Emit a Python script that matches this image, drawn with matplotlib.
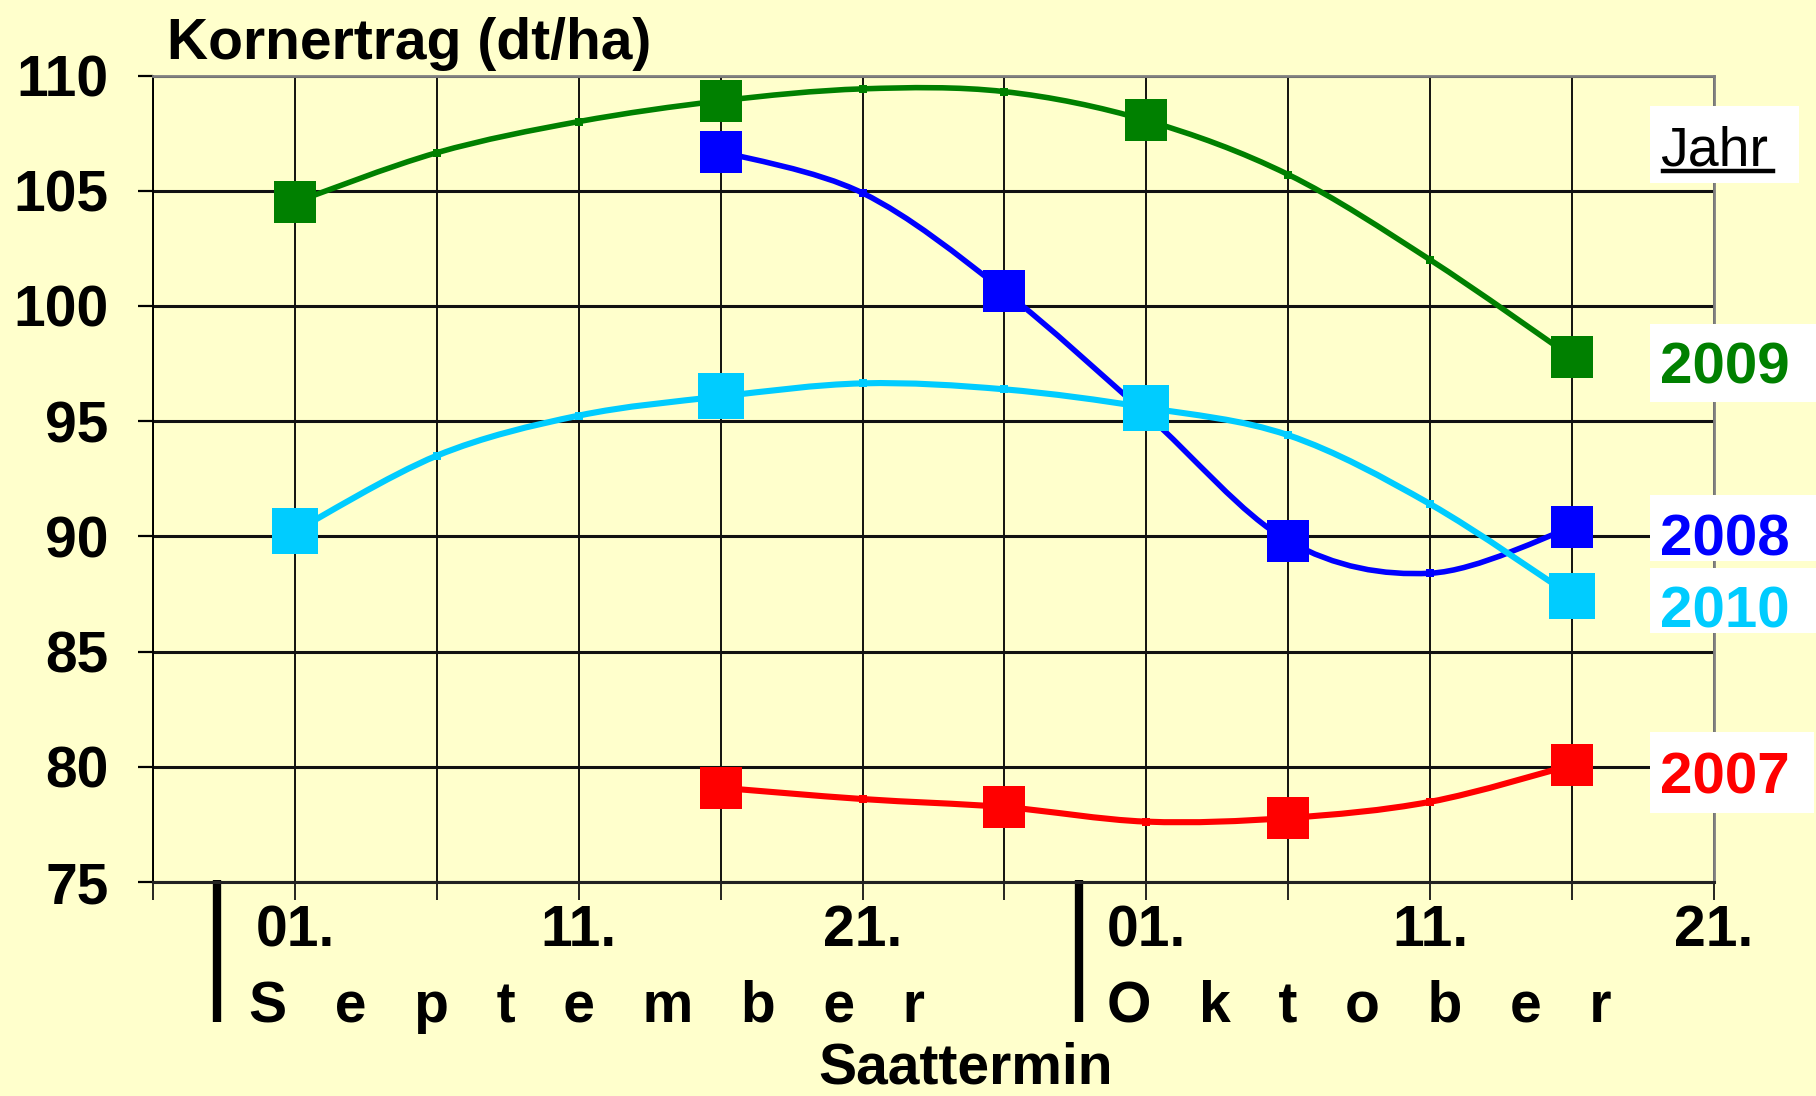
import numpy as np
import matplotlib
matplotlib.use("Agg")
import matplotlib.pyplot as plt
from matplotlib.path import Path
from matplotlib.patches import PathPatch, Rectangle
from matplotlib.lines import Line2D

plt.rcParams['font.family'] = ['Liberation Sans', 'DejaVu Sans']

# Saattermin in Tagen ab 01. September
fit_days_2009 = [0, 5, 10, 15, 20, 25, 30, 35, 40, 45]
fit_2009 = [104.5, 106.65, 108.0, 108.9, 109.42, 109.3, 108.05, 105.7, 102.0, 97.77]
mess_days_2009 = [0, 15, 30, 45]
mess_2009 = [104.5, 108.9, 108.05, 97.77]

fit_days_2008 = [15, 20, 25, 30, 35, 40, 45]
fit_2008 = [106.7, 104.9, 100.63, 95.3, 89.8, 88.4, 90.4]
mess_days_2008 = [15, 25, 35, 45]
mess_2008 = [106.7, 100.63, 89.8, 90.4]

fit_days_2010 = [0, 5, 10, 15, 20, 25, 30, 35, 40, 45]
fit_2010 = [90.22, 93.5, 95.24, 96.07, 96.64, 96.38, 95.59, 94.39, 91.4, 87.4]
mess_days_2010 = [0, 15, 30, 45]
mess_2010 = [90.22, 96.07, 95.59, 87.4]

fit_days_2007 = [15, 20, 25, 30, 35, 40, 45]
fit_2007 = [79.09, 78.6, 78.25, 77.62, 77.78, 78.48, 80.08]
mess_days_2007 = [15, 25, 35, 45]
mess_2007 = [79.09, 78.25, 77.78, 80.08]

x_ticks = list(range(-5, 51, 5))
x_labels = ['', '01.', '', '11.', '', '21.', '', '01.', '', '11.', '', '21.']
y_ticks = list(range(75, 111, 5))

BG = '#FFFFCC'
W, H = 1816, 1096
FS = 41


def px(x, y):
    return x / W, 1 - y / H


def smooth_path(x, y):
    # Excel-artige geglaettete Linie (Bezier durch die Punkte)
    pts = np.column_stack([x, y]).astype(float)
    ext = np.vstack([pts[0], pts, pts[-1]])
    verts = [pts[0]]
    codes = [Path.MOVETO]
    for i in range(len(pts) - 1):
        p0, p1, p2, p3 = ext[i], ext[i + 1], ext[i + 2], ext[i + 3]
        verts += [p1 + (p2 - p0) / 6, p2 - (p3 - p1) / 6, p2]
        codes += [Path.CURVE4] * 3
    return Path(verts, codes)


fig = plt.figure(figsize=(W / 100, H / 100), dpi=100, facecolor=BG)
ax = fig.add_axes([153 / W, (H - 882) / H, (1714 - 153) / W, (882 - 75.5) / H])
ax.set_facecolor(BG)

series = [
    (fit_days_2009, fit_2009, mess_days_2009, mess_2009, '#008000', 4.0, 30),
    (fit_days_2008, fit_2008, mess_days_2008, mess_2008, '#0000FF', 4.0, 30),
    (fit_days_2010, fit_2010, mess_days_2010, mess_2010, '#00CCFF', 4.4, 32.5),
    (fit_days_2007, fit_2007, mess_days_2007, mess_2007, '#FF0000', 4.4, 30),
]

for fd, fv, md, mv, c, lw, ms in series:
    ax.add_patch(PathPatch(smooth_path(fd, fv), fill=False, edgecolor=c, lw=lw,
                           joinstyle='round', capstyle='round', zorder=3))
    ax.plot(fd, fv, ls='none', marker='s', ms=6, mew=0, color=c, zorder=4)
for fd, fv, md, mv, c, lw, ms in series:
    ax.plot(md, mv, ls='none', marker='s', ms=ms, mew=0, color=c, zorder=5)

ax.set_xlim(-5, 50)
ax.set_ylim(75, 110)
ax.set_xticks(x_ticks)
ax.set_xticklabels(x_labels)
ax.set_yticks(y_ticks)
ax.tick_params(axis='y', direction='out', length=10.8, width=1.6, pad=21,
               labelsize=FS)
ax.tick_params(axis='x', direction='out', length=13, width=1.2, pad=3,
               labelsize=FS)
for lab in ax.get_xticklabels() + ax.get_yticklabels():
    lab.set_fontweight('bold')

ax.set_axisbelow(True)
ax.grid(axis='y', color='#111111', lw=2.2)
ax.grid(axis='x', color='black', lw=1.3)
for s in ['top', 'right']:
    ax.spines[s].set_color('#808080')
    ax.spines[s].set_linewidth(2)
ax.spines['left'].set_linewidth(1.4)
ax.spines['bottom'].set_linewidth(2.2)
ax.spines['bottom'].set_color('#222222')

# Monatstrenner
for xm in [-2.73, 27.63]:
    ax.plot([xm, xm], [0.0025, -0.174], transform=ax.get_xaxis_transform(),
            clip_on=False, color='black', lw=6, solid_capstyle='butt')

fig.text(*px(167, 59), 'Kornertrag (dt/ha)', fontsize=FS, fontweight='bold',
         ha='left', va='baseline')
fig.text(*px(249, 1022), 'S   e   p   t   e   m   b   e   r', fontsize=FS,
         fontweight='bold', ha='left', va='baseline')
fig.text(*px(1107, 1022), 'O   k   t   o   b   e   r', fontsize=FS,
         fontweight='bold', ha='left', va='baseline')
fig.text(*px(966, 1095), 'Saattermin', fontsize=FS, fontweight='bold',
         ha='center', va='bottom')

# Jahres-Beschriftung rechts
boxes = [
    ('Jahr', 'black', 'normal', 40, 165, (1650, 106, 1799, 183)),
    ('2009', '#008000', 'bold', 42, 384, (1650, 324, 1816, 402)),
    ('2008', '#0000FF', 'bold', 42, 556, (1650, 495, 1816, 561)),
    ('2010', '#00CCFF', 'bold', 42, 628, (1650, 568, 1816, 633)),
    ('2007', '#FF0000', 'bold', 42, 793, (1650, 732, 1814, 813)),
]
for txt, c, fw, fs, base, (x0, y0, x1, y1) in boxes:
    fig.add_artist(Rectangle(px(x0, y1), (x1 - x0) / W, (y1 - y0) / H,
                             transform=fig.transFigure, facecolor='white',
                             edgecolor='none', zorder=5))
    fig.text(*px(1660, base), txt, fontsize=fs, fontweight=fw, color=c,
             ha='left', va='baseline', zorder=6)

fig.add_artist(Line2D([1663 / W, 1773 / W], [1 - 171 / H, 1 - 171 / H],
                      transform=fig.transFigure, color='black', lw=3.2,
                      zorder=7))

fig.savefig('out.png', dpi=100, facecolor=BG)
